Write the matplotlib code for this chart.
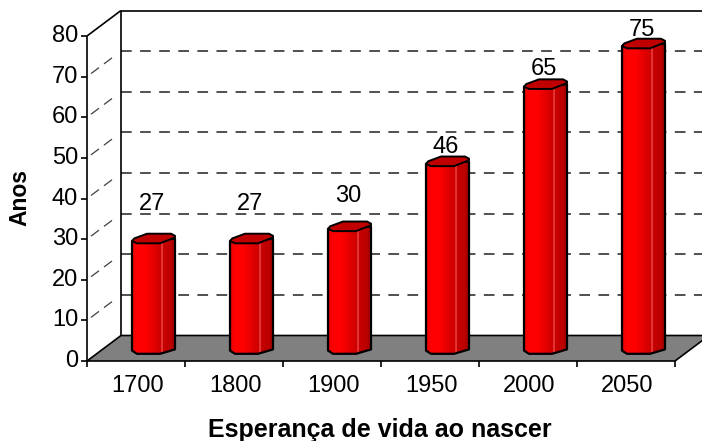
#!/usr/bin/python3

import numpy as np
import matplotlib
matplotlib.use('Agg')
import matplotlib.pyplot as plt
from matplotlib.colors import LinearSegmentedColormap
from matplotlib.patches import Polygon

# Data
years = ['1700', '1800', '1900', '1950', '2000', '2050']
lifeExpectancy = [27, 27, 30, 46, 65, 75]
yTicks = [0, 10, 20, 30, 40, 50, 60, 70, 80]

plt.rcParams['font.family'] = ['Liberation Sans', 'DejaVu Sans']

fig = plt.figure(figsize=(7.02, 4.41), dpi=100)
# axes box is the front plane of the 3d box
ax = fig.add_axes([87 / 702, 80 / 441, 588 / 702, 325 / 441])
ax.set_xlim(0, 6)
ax.set_ylim(0, 80)
ax.axis('off')

# pixel sizes in data units
px = 6 / 588
py = 80 / 325
depthX = 34 * px
depthY = 25.5 * py

black = dict(color='black', lw=1.2, clip_on=False, solid_capstyle='butt')

# floor
ax.add_patch(Polygon([(0, 0), (depthX, depthY), (6 + depthX, depthY), (6, 0)], closed=True,
                     facecolor='#808080', edgecolor='black', lw=1.2, clip_on=False, zorder=1))

# walls and grid
for v in yTicks[1:-1]:
    ax.plot([depthX, 6 + depthX], [v + depthY, v + depthY], color='#202020', lw=1.1,
            dashes=(7, 5.5), clip_on=False, zorder=1)
    ax.plot([0, depthX], [v, v + depthY], color='#404040', lw=0.9,
            dashes=(0, 4, 8, 5, 8, 20), clip_on=False, zorder=1)
ax.plot([0, 0], [0, 80], **black)
ax.plot([depthX, depthX], [depthY, 80 + depthY], **black)
ax.plot([depthX, 6 + depthX], [80 + depthY, 80 + depthY], **black)
ax.plot([0, depthX], [80, 80 + depthY], **black)

# ticks
for v in yTicks:
    ax.plot([-6 * px, 0], [v, v], **black)
    ax.text(-9 * px, v, str(v), ha='right', va='center', fontsize=17)
for i in range(len(years) + 1):
    ax.plot([i, i], [0, -6 * py], **black)
for i, year in enumerate(years):
    ax.text(i + 0.515, -24.5 * py, year, ha='center', va='center', fontsize=17)

# octagonal column, outline offsets in pixels from the front left corner
topShape = [(0, 0), (5, 2.3), (28, 2.3), (43, -3.6), (43, -5.2), (39, -7.3),
            (15, -7.3), (2.3, -2.6)]
gradient = LinearSegmentedColormap.from_list('column', [
    (0, '#d00000'), (0.05, '#f00000'), (0.12, '#ff0000'), (0.3, '#ff0000'), (0.68, '#cc0000'),
    (0.69, '#f05050'), (0.71, '#f05050'), (0.72, '#c80000'), (0.9, '#bc0000'), (1, '#a00000')])
ramp = np.linspace(0, 1, 256).reshape(1, -1)
barBase = 8 * py
barWidth = 43 * px
labelLift = [30, 30, 26, 10, 11, 9]

for i, v in enumerate(lifeExpectancy):
    left = i + 45 * px
    bottom = barBase
    top = barBase + v
    bodyOutline = [(left, top + 2.3 * py), (left + barWidth, top + 4.5 * py),
                   (left + barWidth, bottom + 3.6 * py), (left + 28 * px, bottom - 0.2),
                   (left + 5 * px, bottom - 0.2), (left, bottom + 2.4 * py)]
    body = Polygon(bodyOutline, closed=True, facecolor='none', edgecolor='black', lw=1.6,
                   zorder=4, clip_on=False, joinstyle='round')
    ax.add_patch(body)
    im = ax.imshow(ramp, cmap=gradient, aspect='auto', zorder=3,
                   extent=[left, left + barWidth, bottom - 1, top + 8 * py])
    clip = Polygon(bodyOutline, closed=True, transform=ax.transData)
    im.set_clip_path(clip)
    # top cap
    cap = [(left + dx * px, top + 2.3 * py - dy * py) for dx, dy in topShape]
    ax.add_patch(Polygon(cap, closed=True, facecolor='#c00000', edgecolor='black', lw=1.4,
                         zorder=5, clip_on=False, joinstyle='round'))
    ax.text(left + 20 * px, top + 9 * py + labelLift[i] * py, str(v), ha='center', va='center',
            fontsize=17, zorder=6)

ax.set_xlim(0, 6)
ax.set_ylim(0, 80)

fig.text(380 / 702, 1 - 430 / 441, 'Esperança de vida ao nascer', ha='center', va='center',
         fontsize=18, fontweight='bold')
fig.text(20 / 702, 1 - 197 / 441, 'Anos', ha='center', va='center', rotation=90,
         fontsize=16.5, fontweight='bold')

fig.savefig('out.png')
